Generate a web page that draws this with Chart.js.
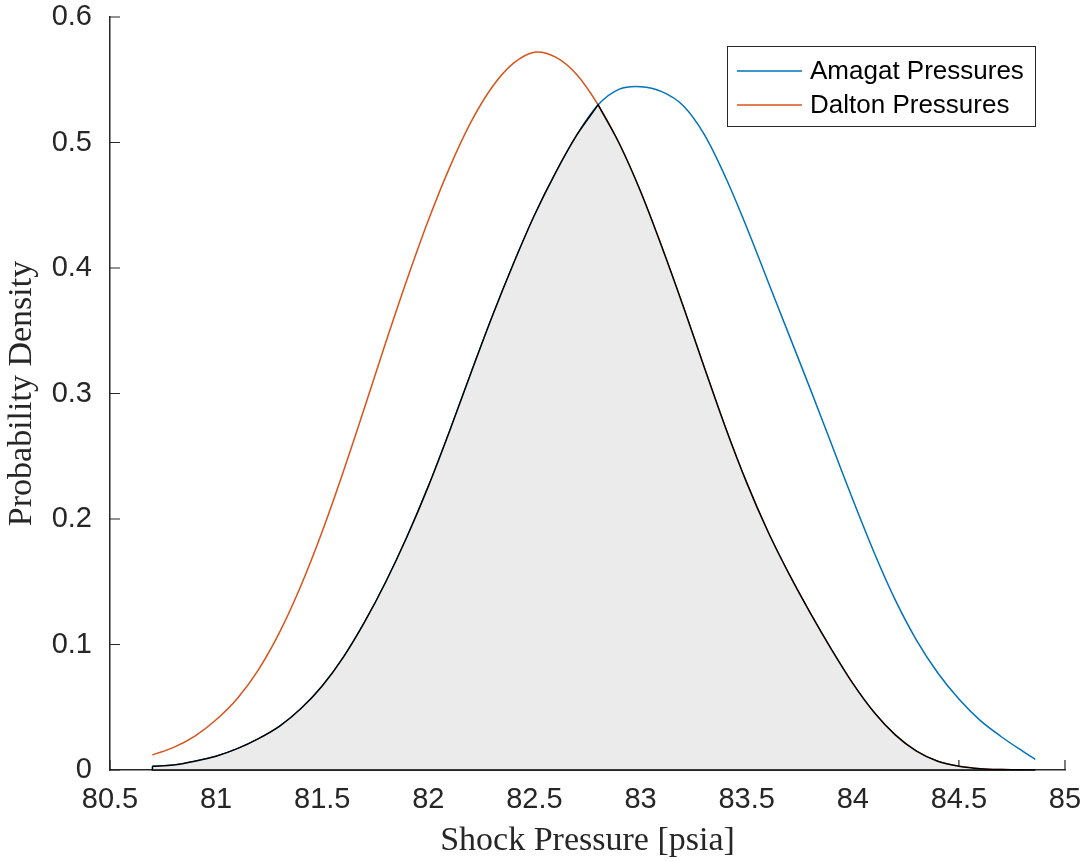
<!DOCTYPE html>
<html>
<head>
<meta charset="utf-8">
<title>Shock Pressure PDF</title>
<script src="https://cdn.jsdelivr.net/npm/chart.js@4.4.1/dist/chart.umd.min.js"></script>
<style>
  body { margin: 0; background: #ffffff; }
</style>
</head>
<body>
<canvas id="pdfChart" width="1086" height="861"></canvas>
<script>
// Shock pressure samples [psia]
var pressure = [80.7, 80.8, 80.9, 81.0, 81.1, 81.2, 81.3, 81.4, 81.5, 81.6,
                81.7, 81.8, 81.9, 82.0, 82.1, 82.2, 82.3, 82.4, 82.5, 82.6,
                82.7, 82.8, 82.9, 83.0, 83.1, 83.2, 83.3, 83.4, 83.5, 83.6,
                83.7, 83.8, 83.9, 84.0, 84.1, 84.2, 84.3, 84.4, 84.5, 84.6,
                84.7, 84.8, 84.86];

// Probability density for each model
var amagat = [0.003, 0.004, 0.007, 0.011, 0.017, 0.025, 0.035, 0.049, 0.067, 0.090,
              0.118, 0.150, 0.186, 0.226, 0.270, 0.316, 0.361, 0.403, 0.442, 0.476,
              0.506, 0.530, 0.5425, 0.5445, 0.5405, 0.5295, 0.5065, 0.4725, 0.4325, 0.3895,
              0.3465, 0.3035, 0.2595, 0.2155, 0.1735, 0.1355, 0.1035, 0.0775, 0.0565, 0.0395,
              0.0265, 0.015, 0.0085];
var dalton = [0.012, 0.018, 0.027, 0.040, 0.057, 0.080, 0.110, 0.147, 0.190, 0.238,
              0.289, 0.341, 0.391, 0.438, 0.480, 0.516, 0.544, 0.563, 0.572, 0.568,
              0.554, 0.530, 0.499, 0.461, 0.417, 0.370, 0.321, 0.273, 0.229, 0.190,
              0.156, 0.125, 0.096, 0.069, 0.046, 0.028, 0.015, 0.007, 0.003, 0.001,
              0.0003, 0.0001, 0.0];

var xTicks = [80.5, 81, 81.5, 82, 82.5, 83, 83.5, 84, 84.5, 85];
var yTicks = [0, 0.1, 0.2, 0.3, 0.4, 0.5, 0.6];

var axisColor = '#262626';
var blue = 'rgb(0, 114, 189)';
var orange = 'rgb(217, 83, 25)';
var curveTension = 0.33;

function toPoints(xs, ys) {
    var pts = [];
    for (var i = 0; i < xs.length; i++) {
        pts.push({ x: xs[i], y: ys[i] });
    }
    return pts;
}

// Overlap region: Amagat up to the crossing, Dalton after it (crossing point repeated so the corner stays sharp)
var cross = pressure.indexOf(82.8);
var overlap = toPoints(pressure.slice(0, cross + 1), amagat.slice(0, cross + 1))
    .concat(toPoints(pressure.slice(cross), dalton.slice(cross)));

// Ticks pointing into the plot, drawn below the curves
var inwardTicks = {
    id: 'inwardTicks',
    beforeDatasetsDraw: function(chart) {
        var ctx = chart.ctx, xs = chart.scales.x, ys = chart.scales.y, area = chart.chartArea;
        ctx.save();
        ctx.strokeStyle = axisColor;
        ctx.lineWidth = 1.2;
        ctx.beginPath();
        xTicks.forEach(function(v) {
            var px = xs.getPixelForValue(v);
            ctx.moveTo(px, area.bottom);
            ctx.lineTo(px, area.bottom - 10);
        });
        yTicks.forEach(function(v) {
            var py = ys.getPixelForValue(v);
            ctx.moveTo(area.left, py);
            ctx.lineTo(area.left + 10, py);
        });
        ctx.stroke();
        ctx.restore();
    },
    afterDatasetsDraw: function(chart) {
        // closing edge of the overlap patch along the axis
        var ctx = chart.ctx, xs = chart.scales.x, ys = chart.scales.y;
        var first = overlap[0], last = overlap[overlap.length - 1];
        ctx.save();
        ctx.strokeStyle = '#000000';
        ctx.lineWidth = 1.5;
        ctx.beginPath();
        ctx.moveTo(xs.getPixelForValue(first.x), ys.getPixelForValue(first.y));
        ctx.lineTo(xs.getPixelForValue(first.x), ys.getPixelForValue(0));
        ctx.lineTo(xs.getPixelForValue(last.x), ys.getPixelForValue(0));
        ctx.lineTo(xs.getPixelForValue(last.x), ys.getPixelForValue(last.y));
        ctx.stroke();
        ctx.restore();
    }
};

// Boxed legend in the upper right corner
var boxLegend = {
    id: 'boxLegend',
    afterDraw: function(chart) {
        var ctx = chart.ctx, area = chart.chartArea;
        var w = 308, h = 80;
        var left = area.right - 30 - w, top = area.top + 29;
        ctx.save();
        ctx.fillStyle = '#ffffff';
        ctx.fillRect(left, top, w, h);
        ctx.strokeStyle = axisColor;
        ctx.lineWidth = 1;
        ctx.strokeRect(left + 0.5, top + 0.5, w, h);
        ctx.font = '26px "Liberation Sans", Arial, sans-serif';
        ctx.textBaseline = 'middle';
        ctx.fillStyle = '#000000';
        [0, 1].forEach(function(i) {
            var ds = chart.data.datasets[i];
            var cy = top + 25 + i * 34;
            ctx.strokeStyle = ds.borderColor;
            ctx.lineWidth = 1.5;
            ctx.beginPath();
            ctx.moveTo(left + 10, cy);
            ctx.lineTo(left + 75, cy);
            ctx.stroke();
            ctx.fillText(ds.label, left + 83, cy + 1);
        });
        ctx.restore();
    }
};

var ctx = document.getElementById('pdfChart').getContext('2d');
var pdfChart = new Chart(ctx, {
    type: 'line',
    data: {
        datasets: [{
            label: 'Amagat Pressures',
            data: toPoints(pressure, amagat),
            borderColor: blue,
            borderWidth: 1.5,
            pointRadius: 0,
            tension: curveTension,
            fill: false,
            order: 2
        }, {
            label: 'Dalton Pressures',
            data: toPoints(pressure, dalton),
            borderColor: orange,
            borderWidth: 1.5,
            pointRadius: 0,
            tension: curveTension,
            fill: false,
            order: 3
        }, {
            label: 'Overlap',
            data: overlap,
            borderColor: '#000000',
            backgroundColor: 'rgb(235, 235, 235)',
            borderWidth: 1.5,
            pointRadius: 0,
            tension: curveTension,
            fill: 'origin',
            order: 1
        }]
    },
    options: {
        responsive: false,
        animation: false,
        devicePixelRatio: 1,
        layout: {
            padding: { top: 17, right: 21, left: 0, bottom: 0 }
        },
        plugins: {
            legend: { display: false },
            tooltip: { enabled: false }
        },
        scales: {
            x: {
                type: 'linear',
                min: 80.5,
                max: 85,
                afterFit: function(scale) {
                    scale.height = 91;
                    scale.paddingLeft = 0;
                    scale.paddingRight = 0;
                },
                afterBuildTicks: function(scale) {
                    scale.ticks = xTicks.map(function(v) { return { value: v }; });
                },
                ticks: {
                    color: axisColor,
                    padding: 13,
                    maxRotation: 0,
                    callback: function(value) { return String(value); },
                    font: { family: '"Liberation Sans", Arial, sans-serif', size: 29 }
                },
                grid: { display: true, drawOnChartArea: false, drawTicks: false },
                border: { display: true, color: axisColor, width: 1.5 },
                title: {
                    display: true,
                    text: 'Shock Pressure [psia]',
                    color: axisColor,
                    padding: { top: 0, bottom: 0 },
                    font: { family: '"Liberation Serif", "Times New Roman", serif', size: 34 }
                }
            },
            y: {
                min: 0,
                max: 0.6,
                afterFit: function(scale) {
                    scale.width = 110;
                    scale.paddingTop = 0;
                    scale.paddingBottom = 0;
                },
                afterBuildTicks: function(scale) {
                    scale.ticks = yTicks.map(function(v) { return { value: v }; });
                },
                ticks: {
                    color: axisColor,
                    padding: 18,
                    callback: function(value) { return String(value); },
                    font: { family: '"Liberation Sans", Arial, sans-serif', size: 29 }
                },
                grid: { display: true, drawOnChartArea: false, drawTicks: false },
                border: { display: true, color: axisColor, width: 1.5 },
                title: {
                    display: true,
                    text: 'Probability Density',
                    color: axisColor,
                    padding: { top: 2, bottom: 0 },
                    font: { family: '"Liberation Serif", "Times New Roman", serif', size: 34 }
                }
            }
        }
    },
    plugins: [inwardTicks, boxLegend]
});
</script>
</body>
</html>
